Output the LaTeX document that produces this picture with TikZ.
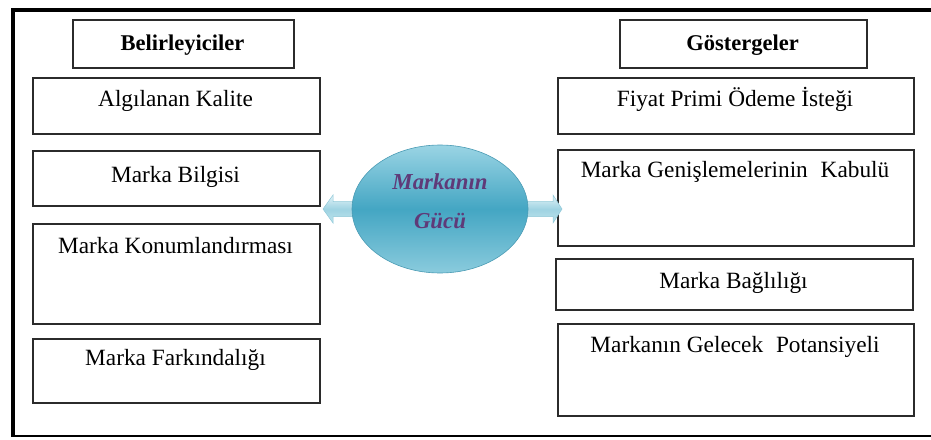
\documentclass[tikz,border=0pt]{standalone}
\usepackage{fontspec}
\setmainfont{Liberation Serif}
\usetikzlibrary{shapes.geometric,calc}

\definecolor{boxgray}{HTML}{2B2B2B}
\definecolor{elltop}{HTML}{9AD4E4}
\definecolor{ellmid}{HTML}{44A6C3}
\definecolor{ellbot}{HTML}{8ACBDD}
\definecolor{ellrim}{HTML}{4A9BB4}
\definecolor{arrtop}{HTML}{E2F3F8}
\definecolor{arrmid}{HTML}{9FD3E2}
\definecolor{arrbot}{HTML}{BDE3EC}
\definecolor{arrrim}{HTML}{8EC8D8}
\definecolor{titlepurple}{HTML}{5F3A78}

% one framed item: style, name, x1, y1, x2, y2, text baseline, text
\newcommand\itembox[8]{%
  \pgfmathsetmacro\bxw{#5-#3}%
  \pgfmathsetmacro\bxh{#6-#4}%
  \pgfmathsetmacro\bxc{(#3+#5)/2}%
  \node[box, minimum width=\bxw pt, minimum height=\bxh pt] (#2) at (#3,#4) {};
  \node[#1] (#2-t) at (\bxc,#7) {#8};
}

\begin{document}
\begin{tikzpicture}[x=1pt, y=-1pt,
  box/.style={draw=boxgray, line width=1.6pt, rectangle, inner sep=0pt,
    anchor=north west, fill=white},
  itemtext/.style={anchor=base, inner sep=0pt,
    font=\fontsize{23.3}{28}\selectfont},
  headtext/.style={anchor=base, inner sep=0pt,
    font=\fontsize{22.5}{27}\selectfont\bfseries},
  centre/.style={ellipse, inner sep=0pt, minimum width=176pt,
    minimum height=128pt, top color=elltop, bottom color=ellbot,
    middle color=ellmid, draw=ellrim, line width=0.6pt},
  centretext/.style={anchor=base, inner sep=0pt, text=titlepurple,
    font=\fontsize{22.8}{28}\selectfont\bfseries\itshape},
  blockarrow/.style={top color=arrtop, bottom color=arrbot,
    middle color=arrmid, draw=arrrim, line width=0.5pt}
]
\useasboundingbox (0,0) rectangle (931,439);

% outer frame (open to the right)
\draw[line width=4pt, line join=miter] (931,10) -- (12.5,10) -- (12.5,437);
\draw[line width=2pt] (11,436) -- (931,436);

% determinants
\itembox{headtext}{bel}{72}{19}{293}{67}{50}{Belirleyiciler}
\itembox{itemtext}{q1}{32}{77}{319}{133}{106}{Algılanan Kalite}
\itembox{itemtext}{q2}{32}{150}{319}{205}{182}{Marka Bilgisi}
\itembox{itemtext}{q3}{32}{223}{319}{323}{253}{Marka Konumlandırması}
\itembox{itemtext}{q4}{32}{338}{319}{402}{365}{Marka Farkındalığı}

% indicators
\itembox{headtext}{gos}{619}{19}{866}{67}{50}{Göstergeler}
\itembox{itemtext}{r1}{557}{77}{913}{133}{106}{Fiyat Primi Ödeme İsteği}
\itembox{itemtext}{r2}{557}{149}{913}{245}{177}{Marka Genişlemelerinin\hspace{0.3em} Kabulü}
\itembox{itemtext}{r3}{555}{258}{912}{309}{288}{Marka Bağlılığı}
\itembox{itemtext}{r4}{557}{323}{913}{415}{352}{Markanın Gelecek\hspace{0.3em} Potansiyeli}

% central concept
\coordinate (ltip) at (323,209);
\coordinate (rtip) at (562,209);
\coordinate (ecentre) at (440,209);
\path (ecentre) ++(-86,0) coordinate (ewest);
\path (ecentre) ++(86,0) coordinate (eeast);

\shade[blockarrow] (ltip) -- ++(10,-14) -- ++(0,6.5)
  -- ($(ewest)+(6,-7.5)$) -- ($(ewest)+(6,7.5)$)
  -- ($(ltip)+(10,7.5)$) -- ++(0,6.5) -- cycle;
\shade[blockarrow] (rtip) -- ++(-9,-14) -- ++(0,6.5)
  -- ($(eeast)+(-6,-7.5)$) -- ($(eeast)+(-6,7.5)$)
  -- ($(rtip)+(-9,7.5)$) -- ++(0,6.5) -- cycle;

\node[centre] (ell) at (ecentre) {};
\node[centretext] (ell-a) at (440,189) {Markanın};
\node[centretext] (ell-b) at (440,228) {Gücü};
\end{tikzpicture}
\end{document}
